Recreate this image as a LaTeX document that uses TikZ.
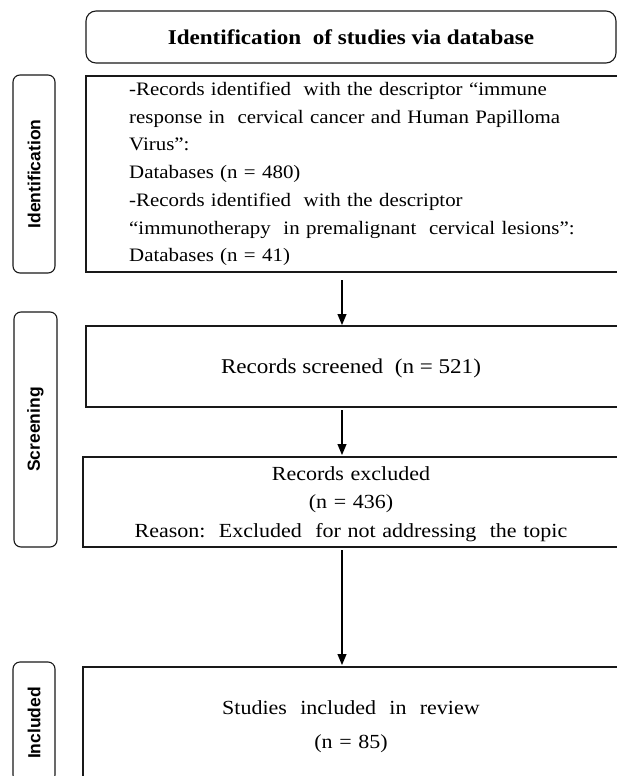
\documentclass[tikz,border=0pt]{standalone}
\usepackage{fontspec}
\setmainfont[FakeStretch=1.10]{Liberation Serif}
\newfontfamily\labfont{Liberation Sans}
\usetikzlibrary{arrows.meta}
\begin{document}
\begin{tikzpicture}[x=1pt,y=-1pt,
  frame/.style={draw=black!90, line width=1.1pt, anchor=north west, inner sep=0pt, outer sep=0pt},
  sidebox/.style={frame, rounded corners=7pt, minimum width=42pt},
  sidetext/.style={rotate=90, inner sep=0pt, font=\labfont\bfseries\fontsize{17.5}{20}\selectfont},
  arr/.style={line width=1.1pt, -{Triangle[length=11pt,width=9pt]}},
  body/.style={inner sep=0pt, text width=520pt}
]
\useasboundingbox (0,0) rectangle (617,776);
\clip (0,0) rectangle (617,776);

% side labels
\node[sidebox, minimum height=198pt] (labI) at (13,75) {};
\node[sidetext] (labItext) at (labI.center) {Identification};
\node[sidebox, minimum height=235pt, minimum width=43pt] (labS) at (14,312) {};
\node[sidetext] (labStext) at (labS.center) {Screening};
\node[sidebox, minimum height=120pt] (labN) at (13,662) {};
\node[sidetext] (labNtext) at ([yshift=-1pt]labN.center) {Included};

% title
\node[frame, rounded corners=10pt, minimum width=530pt, minimum height=52pt,
      font=\bfseries\fontsize{21}{25}\selectfont] (title) at (86,11) {Identification\ \ of studies via database};

% identification box
\node[frame, minimum width=560pt, minimum height=196pt] (ident) at (86,76) {};
\node[body, anchor=north west, align=left, font=\fontsize{19}{27.7}\selectfont] (identtext) at (129,81.3)
 {\rule{0pt}{14pt}-Records identified\ \ with the descriptor “immune\\
  response in\ \ cervical cancer and Human Papilloma\\
  Virus”:\\
  Databases (n = 480)\\
  -Records identified\ \ with the descriptor\\
  “immunotherapy\ \ in premalignant\ \ cervical lesions”:\\
  Databases (n = 41)};

% screened
\node[frame, minimum width=560pt, minimum height=81pt] (screen) at (86,326) {};
\node[inner sep=0pt, anchor=base, font=\fontsize{21}{25}\selectfont] (screentext) at (351,373) {Records screened\ \ (n = 521)};

% excluded
\node[frame, minimum width=560pt, minimum height=90pt] (excl) at (83,457) {};
\node[body, anchor=north, align=center, font=\fontsize{20}{28.5}\selectfont] (excltext) at (351,465)
 {\rule{0pt}{15pt}Records excluded\\(n = 436)\\Reason:\ \ Excluded\ \ for not addressing\ \ the topic};

% included
\node[frame, minimum width=560pt, minimum height=130pt] (incl) at (83,667) {};
\node[body, anchor=north, align=center, font=\fontsize{20}{34}\selectfont] (incltext) at (351,699)
 {\rule{0pt}{15pt}Studies\ \ included\ \ in\ \ review\\(n = 85)};

% arrows
\coordinate (ax) at (342,0);
\draw[arr, shorten <=8pt, shorten >=1pt] (ident.south -| ax) -- (screen.north -| ax);
\draw[arr, shorten <=3pt, shorten >=2pt] (screen.south -| ax) -- (excl.north -| ax);
\draw[arr, shorten <=3pt, shorten >=2pt] (excl.south -| ax) -- (incl.north -| ax);
\end{tikzpicture}
\end{document}
